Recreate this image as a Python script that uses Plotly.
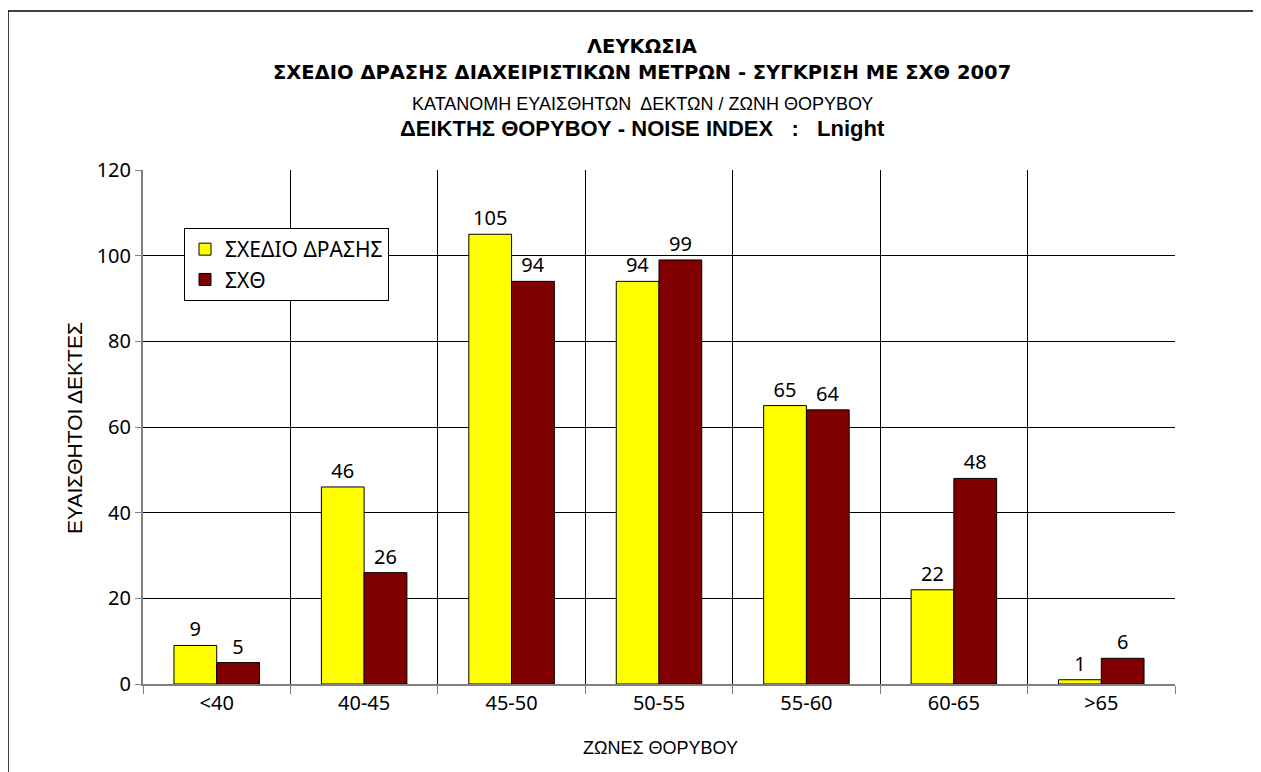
import plotly.graph_objects as go

categories = ["<40", "40-45", "45-50", "50-55", "55-60", "60-65", ">65"]
action_plan = [9, 46, 105, 94, 65, 22, 1]
sxth = [5, 26, 94, 99, 64, 48, 6]

names = ["ΣΧΕΔΙΟ ΔΡΑΣΗΣ", "ΣΧΘ"]
y_ticks = [0, 20, 40, 60, 80, 100, 120]

# the page body adds an 8px margin, so the figure is drawn 8px smaller
OFF = 8
W, H = 1261 - OFF, 772 - OFF
# plot area in reference-screen pixels
L, R, T, B = 143, 1175, 170, 684


def px(x):
    return (x - L) / (R - L)


def py(y):
    return (B - y) / (B - T)


main_font = "Noto Sans, DejaVu Sans, sans-serif"
bold_font = "DejaVu Sans, sans-serif"
narrow_font = "Liberation Sans Narrow, Liberation Sans, Arial, sans-serif"

fig = go.Figure()
for name, vals, color in [(names[0], action_plan, "#FFFF00"), (names[1], sxth, "#800000")]:
    fig.add_trace(
        go.Bar(
            name=name,
            x=categories,
            y=vals,
            text=vals,
            textposition="outside",
            textfont=dict(size=20, color="black", family=main_font),
            marker=dict(color=color, line=dict(color="black", width=1)),
            cliponaxis=False,
        )
    )

titles = [
    ("<b>ΛΕΥΚΩΣΙΑ</b>", 47, 19.5, bold_font),
    ("<b>ΣΧΕΔΙΟ ΔΡΑΣΗΣ ΔΙΑΧΕΙΡΙΣΤΙΚΩΝ ΜΕΤΡΩΝ - ΣΥΓΚΡΙΣΗ ΜΕ ΣΧΘ 2007</b>", 72, 19.5, bold_font),
    ("ΚΑΤΑΝΟΜΗ ΕΥΑΙΣΘΗΤΩΝ  ΔΕΚΤΩΝ / ΖΩΝΗ ΘΟΡΥΒΟΥ", 104, 18, narrow_font),
    ("<b>ΔΕΙΚΤΗΣ ΘΟΡΥΒΟΥ - NOISE INDEX   :   Lnight</b>", 128, 22, narrow_font),
]
annotations = [
    dict(text=t, x=px(642), y=py(y), xref="paper", yref="paper", showarrow=False,
         xanchor="center", yanchor="middle", font=dict(size=s, family=f, color="black"))
    for t, y, s, f in titles
]
annotations.append(
    dict(text="ΕΥΑΙΣΘΗΤΟΙ ΔΕΚΤΕΣ", x=px(74), y=py(428), xref="paper", yref="paper",
         showarrow=False, textangle=-90, xanchor="center", yanchor="middle",
         font=dict(size=21, family=narrow_font, color="black"))
)
annotations.append(
    dict(text="ΖΩΝΕΣ ΘΟΡΥΒΟΥ", x=px(660), y=py(748), xref="paper", yref="paper",
         showarrow=False, xanchor="center", yanchor="middle",
         font=dict(size=18, family=narrow_font, color="black"))
)

fig.update_layout(
    width=W,
    height=H,
    margin=dict(l=L - OFF, r=W - (R - OFF), t=T - OFF, b=H - (B - OFF), autoexpand=False),
    paper_bgcolor="white",
    plot_bgcolor="white",
    barmode="group",
    bargap=0.42,
    bargroupgap=0,
    showlegend=True,
    legend=dict(
        x=px(184), y=py(228), xanchor="left", yanchor="top",
        bordercolor="black", borderwidth=1, bgcolor="white",
        font=dict(size=21, family=main_font, color="black"),
        traceorder="normal",
    ),
    annotations=annotations,
    shapes=[
        dict(type="rect", xref="paper", yref="paper",
             x0=px(8), x1=px(1257), y0=py(820), y1=py(11),
             line=dict(color="black", width=1.5), layer="below"),
    ],
)
fig.update_xaxes(
    type="category",
    tickson="boundaries",
    showgrid=True,
    gridcolor="black",
    gridwidth=1,
    showline=True,
    linecolor="#808080",
    linewidth=2,
    ticks="outside",
    ticklen=8,
    tickcolor="#808080",
    tickfont=dict(size=20, family=main_font, color="black"),
    mirror=False,
)
fig.update_yaxes(
    range=[0, 120],
    tickvals=y_ticks,
    showgrid=True,
    gridcolor="black",
    gridwidth=1,
    zeroline=False,
    showline=True,
    linecolor="#808080",
    linewidth=2,
    ticks="outside",
    ticklen=6,
    tickcolor="#808080",
    tickfont=dict(size=20, family=main_font, color="black"),
)

fig.write_html("out.html")
